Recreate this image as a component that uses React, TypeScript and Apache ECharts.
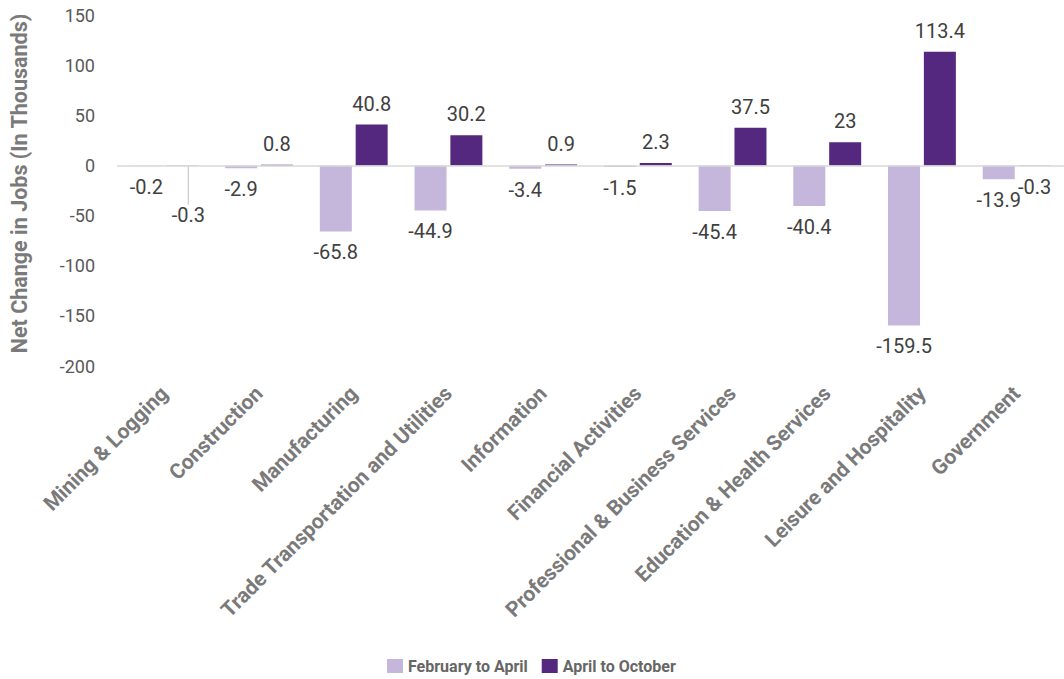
import React, { useEffect, useRef } from "react";
import * as echarts from "echarts";

const categories = [
  "Mining & Logging",
  "Construction",
  "Manufacturing",
  "Trade Transportation and Utilities",
  "Information",
  "Financial Activities",
  "Professional & Business Services",
  "Education & Health Services",
  "Leisure and Hospitality",
  "Government",
];
const febToApril = [-0.2, -2.9, -65.8, -44.9, -3.4, -1.5, -45.4, -40.4, -159.5, -13.9];
const aprilToOctober = [-0.3, 0.8, 40.8, 30.2, 0.9, 2.3, 37.5, 23, 113.4, -0.3];
const seriesNames = ["February to April", "April to October"];
const yTicks = { min: -200, max: 150, interval: 50 };

const LIGHT = "#c4b7db";
const DARK = "#54287f";
const FONT = "Roboto, 'Liberation Sans', Arial, sans-serif";

function toItems(values: number[], withLeader: boolean) {
  return values.map((v, i) => ({
    value: v,
    label: { position: v >= 0 ? "top" : "bottom" },
    ...(withLeader && i === 0
      ? { labelLine: { show: true, lineStyle: { color: "#bfbfbf", width: 1 } } }
      : {}),
  }));
}

export default function App() {
  const ref = useRef<HTMLDivElement>(null);
  useEffect(() => {
    if (!ref.current) return;
    const chart = echarts.init(ref.current, undefined, { renderer: "svg" });
    const labelCommon = {
      show: true,
      distance: 11,
      fontSize: 20,
      color: "#404040",
      fontFamily: FONT,
    };
    chart.setOption({
      animation: false,
      textStyle: { fontFamily: FONT },
      grid: { left: 117, top: 15, width: 958, height: 351, containLabel: false },
      legend: {
        bottom: 0,
        left: 382,
        itemWidth: 16,
        itemHeight: 14,
        itemGap: 14,
        icon: "rect",
        textStyle: { fontSize: 16, fontWeight: "bold", color: "#666666", fontFamily: FONT },
        data: seriesNames,
      },
      xAxis: {
        type: "category",
        data: categories,
        axisLine: { show: false },
        axisTick: { show: false },
        axisLabel: {
          interval: 0,
          rotate: 45,
          margin: 24,
          fontSize: 21,
          fontWeight: "bold",
          color: "#7a7a7a",
          fontFamily: FONT,
        },
      },
      yAxis: {
        type: "value",
        min: yTicks.min,
        max: yTicks.max,
        interval: yTicks.interval,
        name: "Net Change in Jobs (In Thousands)",
        nameLocation: "middle",
        nameGap: 87,
        nameTextStyle: {
          fontSize: 21.5,
          fontWeight: "bold",
          color: "#7a7a7a",
          fontFamily: FONT,
          padding: [0, 0, 0, 14],
        },
        axisLine: { show: false },
        axisTick: { show: false },
        splitLine: { show: false },
        axisLabel: { fontSize: 18, color: "#595959", margin: 22, fontFamily: FONT },
      },
      series: [
        {
          name: seriesNames[0],
          type: "bar",
          data: toItems(febToApril, false),
          barWidth: 32,
          barGap: "12%",
          itemStyle: { color: LIGHT },
          label: labelCommon,
          markLine: {
            silent: true,
            symbol: "none",
            label: { show: false },
            lineStyle: { color: "#d9d9d9", type: "solid", width: 1.5 },
            data: [{ yAxis: 0 }],
          },
        },
        {
          name: seriesNames[1],
          type: "bar",
          data: toItems(aprilToOctober, true),
          barWidth: 32,
          barGap: "12%",
          itemStyle: { color: DARK },
          label: labelCommon,
          labelLayout: (params: any) =>
            params.dataIndex === 0 ? { dx: 6, dy: 28 } : {},
        },
      ],
    });
    return () => chart.dispose();
  }, []);
  return (
    <div
      ref={ref}
      style={{ position: "fixed", left: 0, top: 0, width: 1064, height: 679, background: "#fff" }}
    />
  );
}
